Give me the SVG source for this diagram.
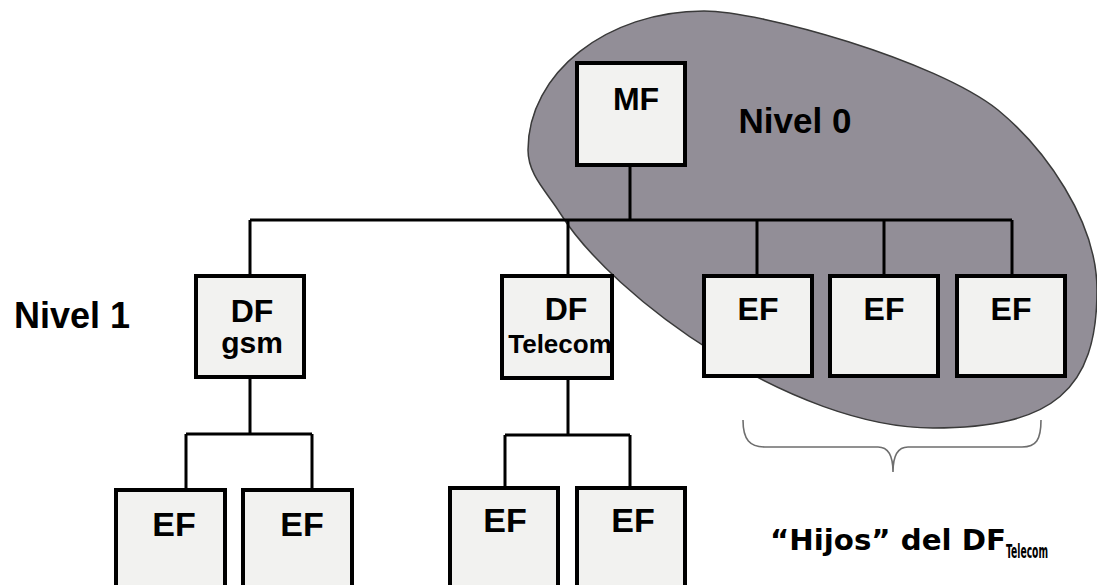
<svg xmlns="http://www.w3.org/2000/svg" width="1097" height="585" viewBox="0 0 1097 585">
<style>
.blob{fill:#928e97;stroke:#3a3a3a;stroke-width:1.5}
.box{fill:#f2f2f0;stroke:#000;stroke-width:4}
.wire{fill:none;stroke:#000;stroke-width:3}
.lbl{font-family:"Liberation Sans",Arial,sans-serif;font-weight:bold;fill:#000;text-anchor:middle}
.brace{fill:none;stroke:#6e6e6e;stroke-width:1.6}
.cap{font-family:"DejaVu Sans","Liberation Sans",sans-serif;font-weight:bold;fill:#000}
</style>
<rect x="0" y="0" width="1097" height="585" fill="#ffffff"/>
<path id="nivel0-area" class="blob" d="M528,150 C528,73 607,11 704,11 C760,11 935,60 998,110 C1044,148 1097,220 1097,290 C1097,390 1053,428 933,428 C793,428 613,298 560,213 C547,192 528,175 528,150 Z"/>
<g id="connectors">
<path class="wire" d="M630,165 V220 M250,220 H1012 M250,220 V276 M568,220 V276 M757,220 V276 M884,220 V276 M1012,220 V276"/>
<path class="wire" d="M250,377 V434 M186,434 H312 M186,434 V490 M312,434 V490"/>
<path class="wire" d="M568,378 V435 M505,435 H630 M505,435 V488 M630,435 V488"/>
</g>
<g id="mf"><rect class="box" x="577" y="63" width="108" height="102"/><text class="lbl" x="636" y="110" font-size="32">MF</text></g>
<text class="lbl" x="795" y="133" font-size="35">Nivel 0</text>
<text class="lbl" x="72" y="328" font-size="36">Nivel 1</text>
<g id="df-gsm"><rect class="box" x="196" y="276" width="108" height="101"/><text class="lbl" x="252" y="322" font-size="32">DF</text><text class="lbl" x="252" y="353" font-size="30">gsm</text></g>
<g id="df-telecom"><rect class="box" x="502" y="276" width="110" height="102"/><text class="lbl" x="566" y="320" font-size="32">DF</text><text class="lbl" x="560" y="353" font-size="26">Telecom</text></g>
<g id="ef-a"><rect class="box" x="704" y="276" width="108" height="100"/><text class="lbl" x="758" y="320" font-size="32">EF</text></g>
<g id="ef-b"><rect class="box" x="830" y="276" width="108" height="100"/><text class="lbl" x="884" y="320" font-size="32">EF</text></g>
<g id="ef-c"><rect class="box" x="957" y="276" width="108" height="100"/><text class="lbl" x="1011" y="320" font-size="32">EF</text></g>
<g id="ef-gsm-1"><rect class="box" x="116" y="490" width="109" height="110"/><text class="lbl" x="174" y="536" font-size="34">EF</text></g>
<g id="ef-gsm-2"><rect class="box" x="243" y="490" width="109" height="110"/><text class="lbl" x="302" y="536" font-size="34">EF</text></g>
<g id="ef-tel-1"><rect class="box" x="450" y="488" width="108" height="110"/><text class="lbl" x="505" y="532" font-size="34">EF</text></g>
<g id="ef-tel-2"><rect class="box" x="577" y="488" width="108" height="110"/><text class="lbl" x="633" y="532" font-size="34">EF</text></g>
<path class="brace" d="M743,420 C743,440 750,447 765,447 H878 C888,447 893,455 893,472 C893,455 898,447 908,447 H1022 C1036,447 1041,440 1041,420"/>
<text class="cap" x="770" y="550" font-size="29" textLength="236" lengthAdjust="spacingAndGlyphs">“Hijos” del DF</text>
<text class="cap" x="1006" y="558" font-size="20" textLength="42" lengthAdjust="spacingAndGlyphs">Telecom</text>
</svg>
